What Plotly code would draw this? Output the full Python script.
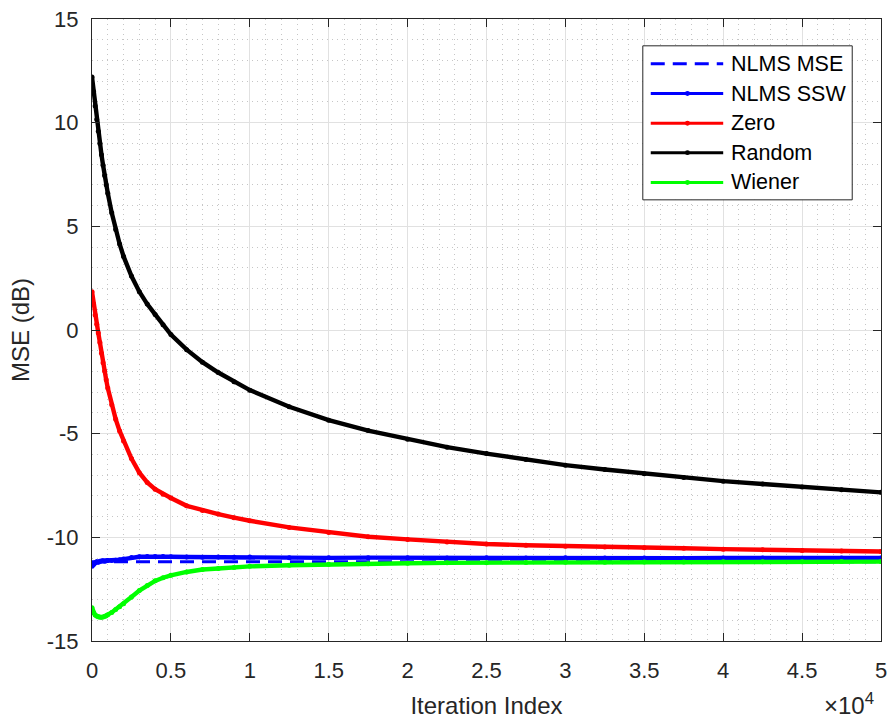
import plotly.graph_objects as go

# ---------------- data ----------------
ITER = [0, 100, 200, 300, 400, 500, 600, 700, 800, 900, 1000,
        1250, 1500, 1750, 2000, 2500, 3000, 3500, 4000, 4500, 5000,
        6000, 7000, 8000, 9000, 10000, 12500, 15000, 17500, 20000,
        22500, 25000, 27500, 30000, 32500, 35000, 37500, 40000,
        42500, 45000, 47500, 50000]

NLMS_MSE_X = [0, 50000]
NLMS_MSE_Y = [-11.18, -11.18]

NLMS_SSW = [-11.40, -11.30, -11.22, -11.18, -11.20, -11.15, -11.14, -11.13, -11.15, -11.13, -11.12,
            -11.12, -11.10, -11.08, -11.05, -10.97, -10.94, -10.93, -10.92, -10.93, -10.94,
            -10.95, -10.96, -10.95, -10.96, -10.95, -10.98, -10.99, -10.98, -10.99,
            -11.00, -10.99, -11.00, -10.99, -11.00, -11.00, -11.01, -11.00,
            -11.00, -11.01, -11.00, -11.00]

ZERO = [1.85, 1.25, 0.72, 0.28, -0.15, -0.60, -1.12, -1.58, -1.98, -2.40, -2.80,
        -3.60, -4.30, -4.87, -5.35, -6.20, -6.88, -7.35, -7.68, -7.92, -8.10,
        -8.48, -8.70, -8.88, -9.05, -9.20, -9.52, -9.77, -9.97, -10.10,
        -10.22, -10.32, -10.38, -10.43, -10.47, -10.50, -10.53, -10.57,
        -10.60, -10.63, -10.66, -10.68]

RANDOM = [12.20, 11.50, 10.80, 10.15, 9.58, 9.00, 8.45, 7.95, 7.45, 7.00, 6.60,
          5.65, 4.85, 4.15, 3.55, 2.60, 1.85, 1.25, 0.75, 0.25, -0.22,
          -0.95, -1.55, -2.05, -2.50, -2.90, -3.70, -4.35, -4.85, -5.27,
          -5.65, -5.96, -6.25, -6.52, -6.73, -6.93, -7.12, -7.29,
          -7.43, -7.57, -7.70, -7.83]

WIENER = [-13.40, -13.65, -13.75, -13.80, -13.83, -13.85, -13.85, -13.84, -13.82, -13.78, -13.73,
          -13.62, -13.48, -13.35, -13.20, -12.88, -12.57, -12.32, -12.10, -11.95, -11.83,
          -11.67, -11.55, -11.50, -11.45, -11.40, -11.35, -11.30, -11.27, -11.25,
          -11.23, -11.22, -11.21, -11.20, -11.20, -11.19, -11.19, -11.18,
          -11.18, -11.18, -11.17, -11.17]

SERIES_NAMES = ["NLMS MSE", "NLMS SSW", "Zero", "Random", "Wiener"]
SERIES_COLORS = ["#0000FF", "#0000FF", "#FF0000", "#000000", "#00FF00"]

X_TICKVALS = [0, 5000, 10000, 15000, 20000, 25000, 30000, 35000, 40000, 45000, 50000]
X_TICKTEXT = ["0", "0.5", "1", "1.5", "2", "2.5", "3", "3.5", "4", "4.5", "5"]
Y_TICKVALS = [-15, -10, -5, 0, 5, 10, 15]
Y_TICKTEXT = ["-15", "-10", "-5", "0", "5", "10", "15"]

# ---------------- figure ----------------
W, H = 894, 721
ML, MR, MT, MB = 92, 7, 15, 80
FONT = "Arial, Liberation Sans, Helvetica, sans-serif"
AXC = "#262626"

fig = go.Figure()

fig.add_trace(go.Scatter(x=NLMS_MSE_X, y=NLMS_MSE_Y, mode="lines", name=SERIES_NAMES[0],
                         line=dict(color=SERIES_COLORS[0], width=3, dash="14px,8px")))
for name, col, ys in zip(SERIES_NAMES[1:], SERIES_COLORS[1:], [NLMS_SSW, ZERO, RANDOM, WIENER]):
    fig.add_trace(go.Scatter(x=ITER, y=ys, mode="lines+markers", name=name,
                             line=dict(color=col, width=4.4),
                             marker=dict(color=col, size=5, line=dict(width=0))))

grid_major = "#e1e1e1"
grid_minor = "#c6c6c6"

fig.update_xaxes(range=[0, 50000], tickvals=X_TICKVALS, ticktext=X_TICKTEXT,
                 showline=True, linecolor=AXC, linewidth=1, mirror="ticks",
                 ticks="inside", ticklen=8, tickcolor=AXC, tickwidth=1,
                 showgrid=True, gridcolor=grid_major, gridwidth=1,
                 minor=dict(dtick=1000, tick0=0, showgrid=True, gridcolor=grid_minor,
                            griddash="1px,4px", gridwidth=1, ticks=""),
                 zeroline=False, ticklabelstandoff=10,
                 tickfont=dict(family=FONT, size=22, color=AXC),
                 title=dict(text="Iteration Index", font=dict(family=FONT, size=24, color=AXC),
                            standoff=14))
fig.update_yaxes(range=[-15, 15], tickvals=Y_TICKVALS, ticktext=Y_TICKTEXT,
                 showline=True, linecolor=AXC, linewidth=1, mirror="ticks",
                 ticks="inside", ticklen=8, tickcolor=AXC, tickwidth=1,
                 showgrid=True, gridcolor=grid_major, gridwidth=1,
                 minor=dict(dtick=1, tick0=0, showgrid=True, gridcolor=grid_minor,
                            griddash="1px,4px", gridwidth=1, ticks=""),
                 zeroline=False, ticklabelstandoff=8,
                 tickfont=dict(family=FONT, size=22, color=AXC),
                 title=dict(text="MSE (dB)", font=dict(family=FONT, size=24, color=AXC),
                            standoff=10))

# helpers: pixel -> paper coords (paper = plot area)
PW = W - ML - MR
PH = H - MT - MB
def PX(px):
    return (px - ML) / PW
def PY(py):
    return (H - MB - py) / PH

shapes = []
annotations = []

# legend box
shapes.append(dict(type="rect", xref="paper", yref="paper",
                   x0=PX(647), x1=PX(858), y0=PY(197), y1=PY(42),
                   line=dict(color=AXC, width=1), fillcolor="white", layer="above"))
rows = [60, 90, 120, 149.5, 179.5]
for i, (name, col) in enumerate(zip(SERIES_NAMES, SERIES_COLORS)):
    yy = PY(rows[i])
    shapes.append(dict(type="line", xref="paper", yref="paper",
                       x0=PX(655), x1=PX(728), y0=yy, y1=yy, layer="above",
                       line=dict(color=col, width=3, dash="14px,8px" if i == 0 else "solid")))
    if i > 0:
        shapes.append(dict(type="circle", xref="paper", yref="paper",
                           x0=PX(689.5), x1=PX(694.5), y0=PY(rows[i] + 2.5), y1=PY(rows[i] - 2.5),
                           fillcolor=col, line=dict(color=col, width=0), layer="above"))
    annotations.append(dict(xref="paper", yref="paper", x=PX(734), y=yy, text=name,
                            xanchor="left", yanchor="middle", showarrow=False,
                            font=dict(family=FONT, size=21.5, color="#000000")))

# x10^4 exponent label
annotations.append(dict(xref="paper", yref="paper", x=PX(828), y=PY(704), text="×10<sup>4</sup>",
                        xanchor="left", yanchor="middle", showarrow=False,
                        font=dict(family=FONT, size=24, color=AXC)))

fig.update_layout(width=W, height=H, margin=dict(l=ML, r=MR, t=MT, b=MB, pad=0),
                  paper_bgcolor="white", plot_bgcolor="white", showlegend=False,
                  shapes=shapes, annotations=annotations,
                  font=dict(family=FONT, color=AXC))

fig.write_html("out.html")
